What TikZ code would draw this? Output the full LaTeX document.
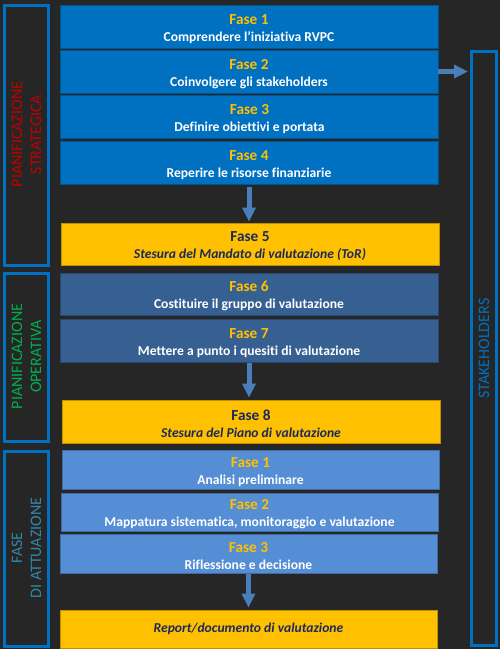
\documentclass[tikz,border=0pt]{standalone}
\usepackage{fontspec}
\setmainfont{Carlito}[Ligatures={NoCommon}]
\usetikzlibrary{arrows.meta}
\definecolor{bg}{HTML}{262626}
\definecolor{pblue}{HTML}{0070C0}
\definecolor{midblue}{HTML}{376092}
\definecolor{lightblue}{HTML}{558ED5}
\definecolor{gold}{HTML}{FFC000}
\definecolor{navy}{HTML}{1B2A5C}
\definecolor{arrowblue}{HTML}{4A7EBB}
\definecolor{redtxt}{HTML}{C00000}
\definecolor{greentxt}{HTML}{00B050}
\definecolor{tealtxt}{HTML}{3287A8}
\newcommand{\ttl}[1]{{\fontsize{15.3}{17}\selectfont\rule{0pt}{14.5pt}#1}}
\begin{document}
\begin{tikzpicture}[x=1pt,y=-1pt,
  box/.style={draw=#1!75!black, fill=#1, line width=0.8pt, minimum width=378pt,
    inner sep=0pt, align=center, text=white,
    font=\bfseries\fontsize{13.6}{17}\selectfont},
  ybox/.style={draw=gold!75!black, fill=gold, line width=0.8pt, minimum width=378pt,
    inner sep=0pt, align=center, text=navy,
    font=\bfseries\fontsize{13.6}{17}\selectfont},
  panel/.style={draw=pblue, line width=3pt, inner sep=0pt},
  plabel/.style={rotate=90, align=center, inner sep=0pt,
    font=\fontsize{16}{19}\selectfont},
  barrow/.style={draw=arrowblue, fill=arrowblue, line width=5pt,
    -{Triangle[width=13pt,length=14pt]}}]
\fill[bg] (0,0) rectangle (500,649);
\useasboundingbox (0,0) rectangle (500,649);

% side panels
\node[panel, minimum width=44pt, minimum height=260pt] (p1) at (26.5,135.5) {};
\node[panel, minimum width=44pt, minimum height=168pt] (p2) at (26.5,357.5) {};
\node[panel, minimum width=44pt, minimum height=195pt] (p3) at (26.5,549) {};
\node[panel, minimum width=25pt, minimum height=594pt] (sh) at (484,348.5) {};

\node[plabel, text=redtxt, xshift=1pt] (l1) at (p1) {PIANIFICAZIONE\\STRATEGICA};
\node[plabel, text=greentxt, xshift=1pt] (l2) at (p2) {PIANIFICAZIONE\\OPERATIVA};
\node[plabel, text=tealtxt, xshift=1pt] (l3) at (p3) {FASE\\DI ATTUAZIONE};
\node[plabel, text=pblue] (l4) at (sh) {STAKEHOLDERS};

% phase boxes
\node[box=pblue, minimum height=43pt] (f1) at (249,26.5) {\ttl{\textcolor{gold}{Fase 1}}\\Comprendere l’iniziativa RVPC};
\node[box=pblue, minimum height=43pt] (f2) at (249,71.5) {\ttl{\textcolor{gold}{Fase 2}}\\Coinvolgere gli stakeholders};
\node[box=pblue, minimum height=43pt] (f3) at (249.5,116.5) {\ttl{\textcolor{gold}{Fase 3}}\\Definire obiettivi e portata};
\node[box=pblue, minimum height=43pt] (f4) at (249,162.5) {\ttl{\textcolor{gold}{Fase 4}}\\Reperire le risorse finanziarie};
\node[ybox, minimum height=42pt] (f5) at (250,244) {\ttl{Fase 5}\\\itshape Stesura del Mandato di valutazione (ToR)};
\node[box=midblue, minimum height=42pt] (f6) at (249,294) {\ttl{\textcolor{gold}{Fase 6}}\\Costituire il gruppo di valutazione};
\node[box=midblue, minimum height=43pt] (f7) at (249,340.5) {\ttl{\textcolor{gold}{Fase 7}}\\Mettere a punto i quesiti di valutazione};
\node[ybox, minimum height=43pt] (f8) at (251,421.5) {\ttl{Fase 8}\\\itshape Stesura del Piano di valutazione};
\node[box=lightblue, minimum height=39pt, minimum width=377pt] (a1) at (250.5,469.5) {\ttl{\textcolor{gold}{Fase 1}}\\Analisi preliminare};
\node[box=lightblue, minimum height=38pt, minimum width=377pt] (a2) at (249.5,512) {\ttl{\textcolor{gold}{Fase 2}}\\Mappatura sistematica, monitoraggio e valutazione};
\node[box=lightblue, minimum height=39pt, minimum width=377pt] (a3) at (248.5,553.5) {\ttl{\textcolor{gold}{Fase 3}}\\Riflessione e decisione};
\node[ybox, minimum height=38pt, minimum width=377pt] (rep) at (248.5,629) {\itshape Report/documento di valutazione};

% arrows
\draw[barrow, shorten <=3pt, shorten >=1pt] (f4.south) -- (f4.south |- f5.north);
\draw[barrow, shorten <=1pt, shorten >=2pt] (f7.south) -- (f7.south |- f8.north);
\draw[barrow, shorten <=1pt, shorten >=2pt] (a3.south) -- (a3.south |- rep.north);
\draw[barrow, shorten >=2pt] (f2.east) -- (f2.east -| sh.west);
\end{tikzpicture}
\end{document}
